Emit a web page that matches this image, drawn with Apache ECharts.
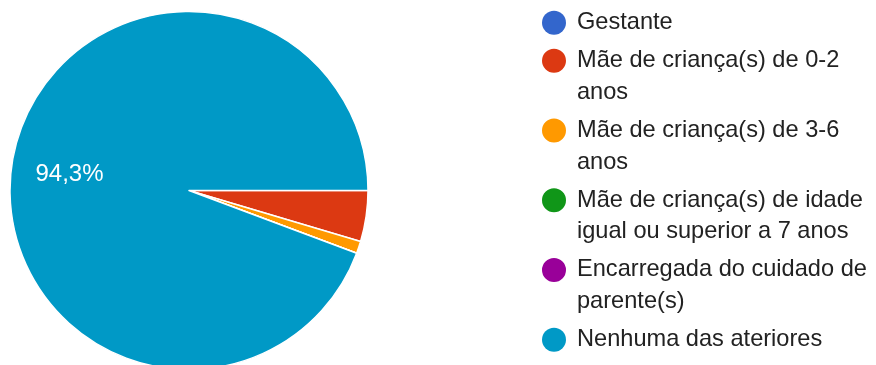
<!DOCTYPE html>
<html>
<head>
<meta charset="utf-8">
<script src="https://cdn.jsdelivr.net/npm/echarts@6/dist/echarts.min.js"></script>
<style>
html,body{margin:0;padding:0;background:#fff;}
#chart{width:876px;height:365px;}
</style>
</head>
<body>
<div id="chart"></div>
<script>
const categories = [
  "Gestante",
  "Mãe de criança(s) de 0-2\nanos",
  "Mãe de criança(s) de 3-6\nanos",
  "Mãe de criança(s) de idade\nigual ou superior a 7 anos",
  "Encarregada do cuidado de\nparente(s)",
  "Nenhuma das ateriores"
];
const values = [0, 4.6, 1.1, 0, 0, 94.3];
const colors = ["#3366cc", "#dc3912", "#ff9900", "#109618", "#990099", "#0099c6"];

const total = values.reduce((a, b) => a + b, 0);
const FONT = "Arial, 'Liberation Sans', sans-serif";

const rich = {
  t: { fontSize: 23.6, fontFamily: FONT, color: "#222222", lineHeight: 31.7 },
  g: { width: 11, lineHeight: 31.7 },
  sp: { width: 35, lineHeight: 31.7 }
};
colors.forEach((c, i) => {
  rich["c" + i] = { width: 24, height: 24, borderRadius: 12, backgroundColor: c, lineHeight: 31.7 };
});

const chart = echarts.init(document.getElementById("chart"), null, { renderer: "canvas" });
chart.setOption({
  animation: false,
  color: colors,
  legend: {
    orient: "vertical",
    left: 537,
    top: 7,
    padding: 0,
    itemGap: 6.3,
    icon: "none",
    itemWidth: 0,
    itemHeight: 24,
    selectedMode: false,
    data: categories,
    formatter: function (name) {
      const i = categories.indexOf(name);
      const lines = name.split("\n");
      return lines.map((l, k) => (k === 0 ? "{c" + i + "|}{g|}" : "{sp|}") + "{t|" + l + "}").join("\n");
    },
    textStyle: { rich: rich, lineHeight: 31.7 }
  },
  series: [{
    type: "pie",
    center: [189, 190.5],
    radius: [0, 179],
    startAngle: 0,
    clockwise: true,
    avoidLabelOverlap: false,
    percentPrecision: 1,
    itemStyle: { borderColor: "#ffffff", borderWidth: 1.5 },
    labelLine: { show: false },
    emphasis: { disabled: true },
    label: {
      position: "inside",
      color: "#ffffff",
      fontSize: 24,
      fontFamily: FONT,
      padding: [0, 57, 11, 0],
      formatter: function (p) { return p.percent.toFixed(1).replace(".", ",") + "%"; }
    },
    data: categories.map((n, i) => ({
      name: n,
      value: values[i],
      label: { show: values[i] / total > 0.5 }
    }))
  }]
});
</script>
</body>
</html>
